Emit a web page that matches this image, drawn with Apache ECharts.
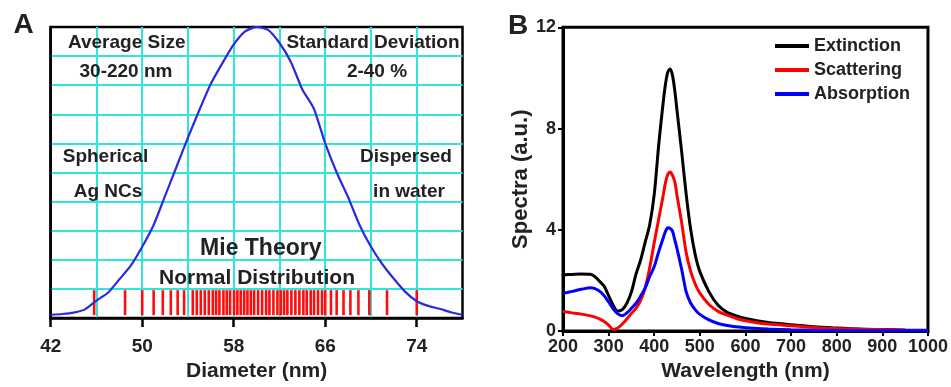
<!DOCTYPE html>
<html>
<head>
<meta charset="utf-8">
<script src="https://cdn.jsdelivr.net/npm/echarts@6/dist/echarts.min.js"></script>
<style>
html,body{margin:0;padding:0;background:#fff;}
#chart{width:951px;height:387px;}
</style>
</head>
<body>
<div id="chart"></div>
<script>
// ---------- Panel A data ----------
const diameterNm = [42,43,44,45,46,47,48,49,50,51,52,53,54,55,56,57,58,59,60,61,62,63,64,65,66,67,68,69,70,71,72,73,74,75,76,77,78];
const distribution = [0.11,0.14,0.19,0.30,0.60,0.87,1.33,1.80,2.45,3.20,4.20,5.20,6.20,7.15,8.05,8.75,9.40,9.85,10.0,9.90,9.45,8.80,7.85,7.20,6.00,5.00,4.15,3.20,2.45,1.85,1.35,0.90,0.58,0.42,0.32,0.20,0.11];
const rugDiameters = [45.8,48.5,50.0,51.0,51.8,52.5,53.1,53.66,
  54.42,54.77,55.12,55.47,55.82,56.17,56.46,56.75,57.10,57.39,57.68,58.03,58.32,58.61,58.91,59.20,59.49,59.78,
  60.13,60.48,60.83,61.12,61.47,61.82,62.11,62.40,62.69,63.04,63.39,63.74,64.09,64.38,64.73,65.02,65.37,65.72,
  66.0,66.5,67.0,67.6,68.2,68.9,69.85,71.4,74.0];
const diameterTicks = [42,50,58,66,74];

// ---------- Panel B data ----------
const wavelength = [200,220,240,260,270,280,290,300,310,320,330,340,350,360,370,380,390,400,410,420,425,430,435,440,445,450,460,470,480,490,500,520,540,560,580,600,625,650,700,750,800,850,900,950,1000];
const extinction = [2.22,2.24,2.26,2.25,2.15,1.97,1.78,1.40,1.02,0.79,0.85,1.10,1.55,2.25,2.80,3.50,4.20,5.40,7.40,9.10,9.80,10.25,10.35,10.10,9.50,8.70,7.10,5.40,4.00,3.00,2.35,1.55,1.02,0.74,0.60,0.50,0.41,0.34,0.25,0.17,0.12,0.08,0.06,0.04,0.03];
const scattering = [0.77,0.72,0.67,0.60,0.55,0.48,0.38,0.24,0.06,0.12,0.28,0.48,0.70,0.90,1.20,1.70,2.50,3.50,4.45,5.40,5.90,6.20,6.28,6.15,5.90,5.35,4.30,3.10,2.35,1.85,1.50,1.05,0.78,0.63,0.50,0.41,0.33,0.28,0.21,0.14,0.10,0.07,0.05,0.03,0.02];
const absorption = [1.49,1.57,1.65,1.71,1.68,1.58,1.40,1.15,0.88,0.68,0.61,0.72,0.90,1.10,1.38,1.70,2.15,2.55,3.15,3.70,3.95,4.08,4.05,3.95,3.60,3.25,2.45,1.55,1.10,0.84,0.66,0.44,0.30,0.22,0.17,0.13,0.10,0.08,0.05,0.03,0.02,0.015,0.01,0.01,0.01];
const seriesNames = ['Extinction','Scattering','Absorption'];

const FONT = '"Liberation Sans", Arial, sans-serif';
const TXT = '#222';
const CYAN = '#2ee6dc';
const RUG_Y = 0.53;

const chart = echarts.init(document.getElementById('chart'), null, {renderer:'canvas'});

function txt(text, x, y, size){
  return {type:'text', x:x, y:y, z:100,
    style:{text:text, x:0, y:0, align:'center', verticalAlign:'middle',
      font:'bold '+size+'px '+FONT, fill:TXT}};
}

const option = {
  animation:false,
  backgroundColor:'#fff',
  grid:[
    {left:50.7, top:27, width:411.8, height:294, show:true, borderColor:'#000', borderWidth:2.5, backgroundColor:'transparent'},
    {left:563, top:27.3, width:366, height:308.4, show:true, borderColor:'#000', borderWidth:3, backgroundColor:'transparent'}
  ],
  xAxis:[
    {gridIndex:0, type:'value', min:42, max:78,
      axisLine:{show:true, lineStyle:{color:'#000', width:2.5}},
      axisTick:{show:true, inside:false, length:9, lineStyle:{color:'#000', width:2.5}, customValues:diameterTicks},
      axisLabel:{show:true, margin:19, color:TXT, fontWeight:'bold', fontSize:19, fontFamily:FONT, customValues:diameterTicks,
        formatter:v => String(v)},
      splitLine:{show:false},
      name:'Diameter (nm)', nameLocation:'middle', nameGap:42,
      nameTextStyle:{color:TXT, fontWeight:'bold', fontSize:21, fontFamily:FONT}},
    {gridIndex:0, type:'value', position:'top', min:0, max:36, interval:4,
      axisLine:{show:false}, axisTick:{show:false}, axisLabel:{show:false},
      splitLine:{show:true, showMinLine:false, showMaxLine:false, lineStyle:{color:CYAN, width:2}}},
    {gridIndex:1, type:'value', min:200, max:1000, interval:100,
      axisLine:{show:true, lineStyle:{color:'#000', width:3}},
      axisTick:{show:true, inside:false, length:5, lineStyle:{color:'#000', width:2}},
      axisLabel:{show:true, margin:7, color:TXT, fontWeight:'bold', fontSize:18, fontFamily:FONT,
        formatter:v => String(v)},
      splitLine:{show:false},
      name:'Wavelength (nm)', nameLocation:'middle', nameGap:29,
      nameTextStyle:{color:TXT, fontWeight:'bold', fontSize:21, fontFamily:FONT}}
  ],
  yAxis:[
    {gridIndex:0, type:'value', min:0, max:10, interval:1,
      axisLine:{show:true, lineStyle:{color:'#000', width:2.5}},
      axisTick:{show:false}, axisLabel:{show:false},
      splitLine:{show:true, showMinLine:false, showMaxLine:false, lineStyle:{color:CYAN, width:2}}},
    {gridIndex:1, type:'value', min:0, max:12, interval:4,
      axisLine:{show:true, lineStyle:{color:'#000', width:3}},
      axisTick:{show:true, inside:false, length:5, lineStyle:{color:'#000', width:2}},
      axisLabel:{show:true, margin:7, color:TXT, fontWeight:'bold', fontSize:18, fontFamily:FONT},
      splitLine:{show:false},
      name:'Spectra (a.u.)', nameLocation:'middle', nameGap:31,
      nameTextStyle:{color:TXT, fontWeight:'bold', fontSize:22, fontFamily:FONT}}
  ],
  legend:{
    orient:'vertical', left:775, top:37, padding:0,
    icon:'rect', itemWidth:34, itemHeight:4, itemGap:6,
    data:seriesNames,
    textStyle:{color:TXT, fontWeight:'bold', fontSize:18, fontFamily:FONT, lineHeight:18}
  },
  series:[
    {type:'scatter', xAxisIndex:0, yAxisIndex:0, symbol:'rect', symbolSize:[2.6,25],
      itemStyle:{color:'#ff0d0d', opacity:1}, silent:true, z:3,
      data: rugDiameters.map(v => [v, RUG_Y])},
    {type:'line', xAxisIndex:0, yAxisIndex:0, showSymbol:false, smooth:0.2,
      lineStyle:{color:'#2a2ae0', width:2.2}, itemStyle:{color:'#2a2ae0'}, z:4,
      data: diameterNm.map((d,i) => [d, distribution[i]])},
    {type:'line', name:seriesNames[0], xAxisIndex:2, yAxisIndex:1, showSymbol:false, smooth:0.3,
      lineStyle:{color:'#000', width:3}, itemStyle:{color:'#000'},
      data: wavelength.map((w,i) => [w, extinction[i]])},
    {type:'line', name:seriesNames[1], xAxisIndex:2, yAxisIndex:1, showSymbol:false, smooth:0.3,
      lineStyle:{color:'#ff0000', width:3}, itemStyle:{color:'#ff0000'},
      data: wavelength.map((w,i) => [w, scattering[i]])},
    {type:'line', name:seriesNames[2], xAxisIndex:2, yAxisIndex:1, showSymbol:false, smooth:0.3,
      lineStyle:{color:'#0000ff', width:3}, itemStyle:{color:'#0000ff'},
      data: wavelength.map((w,i) => [w, absorption[i]])}
  ],
  graphic:[
    txt('A', 23.5, 25.5, 28),
    txt('B', 518, 26.5, 28),
    txt('Average Size', 126.7, 43, 19),
    txt('30-220 nm', 126, 72, 19),
    txt('Standard Deviation', 373, 43, 19),
    txt('2-40 %', 377, 72, 19),
    txt('Spherical', 105.5, 156.5, 19),
    txt('Ag NCs', 108, 191.5, 19),
    txt('Dispersed', 406, 156.5, 19),
    txt('in water', 409, 191.5, 19),
    txt('Mie Theory', 260.8, 249, 23),
    txt('Normal Distribution', 257, 278.5, 21)
  ]
};
chart.setOption(option);
</script>
</body>
</html>
